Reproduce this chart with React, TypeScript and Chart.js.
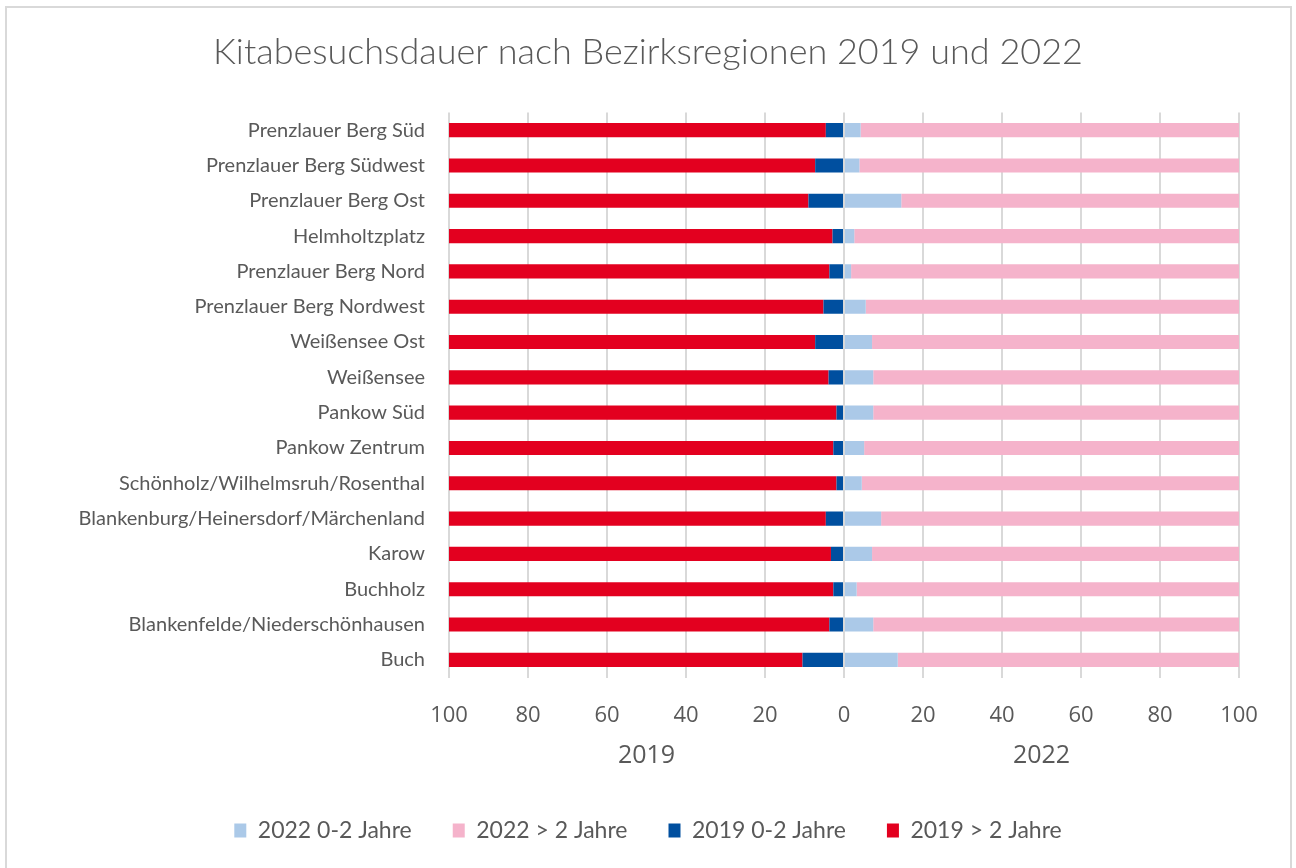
import React, { useEffect, useRef } from "react";
import { Chart, registerables } from "chart.js";

Chart.register(...registerables);

const categories = [
  "Prenzlauer Berg Süd",
  "Prenzlauer Berg Südwest",
  "Prenzlauer Berg Ost",
  "Helmholtzplatz",
  "Prenzlauer Berg Nord",
  "Prenzlauer Berg Nordwest",
  "Weißensee Ost",
  "Weißensee",
  "Pankow Süd",
  "Pankow Zentrum",
  "Schönholz/Wilhelmsruh/Rosenthal",
  "Blankenburg/Heinersdorf/Märchenland",
  "Karow",
  "Buchholz",
  "Blankenfelde/Niederschönhausen",
  "Buch",
];

const y2022Under2 = [4.2, 3.9, 14.5, 2.6, 1.8, 5.5, 7.1, 7.4, 7.4, 5.1, 4.5, 9.4, 7.1, 3.2, 7.4, 13.6];
const y2022Over2 = [95.8, 96.1, 85.5, 97.4, 98.2, 94.5, 92.9, 92.6, 92.6, 94.9, 95.5, 90.6, 92.9, 96.8, 92.6, 86.4];
const y2019Under2 = [4.6, 7.3, 9.0, 2.9, 3.7, 5.2, 7.3, 3.9, 1.9, 2.7, 1.9, 4.6, 3.3, 2.7, 3.7, 10.5];
const y2019Over2 = [95.4, 92.7, 91.0, 97.1, 96.3, 94.8, 92.7, 96.1, 98.1, 97.3, 98.1, 95.4, 96.7, 97.3, 96.3, 89.5];

const yearLabels = ["2019", "2022"];
const seriesNames = ["2022 0-2 Jahre", "2022 > 2 Jahre", "2019 0-2 Jahre", "2019 > 2 Jahre"];
const seriesColors = ["#ABC9E8", "#F5B3CB", "#004F9F", "#E3001F"];

const TEXT = "#595959";
const GRID = "#D9D9D9";

const frame = {
  id: "frame",
  beforeDraw(chart: any) {
    const ctx = chart.ctx;
    ctx.save();
    ctx.fillStyle = "#ffffff";
    ctx.fillRect(0, 0, chart.width, chart.height);
    ctx.strokeStyle = GRID;
    ctx.lineWidth = 2;
    ctx.strokeRect(6, 7, 1285, 900);
    ctx.restore();
  },
};

export default function App() {
  const ref = useRef<HTMLCanvasElement | null>(null);
  useEffect(() => {
    if (!ref.current) return;
    const neg = (a: number[]) => a.map((v) => -v);
    const chart = new Chart(ref.current, {
      type: "bar",
      data: {
        labels: categories,
        datasets: [
          { label: seriesNames[0], data: y2022Under2, backgroundColor: seriesColors[0] },
          { label: seriesNames[1], data: y2022Over2, backgroundColor: seriesColors[1] },
          { label: seriesNames[2], data: neg(y2019Under2), backgroundColor: seriesColors[2] },
          { label: seriesNames[3], data: neg(y2019Over2), backgroundColor: seriesColors[3] },
        ],
      },
      options: {
        indexAxis: "y",
        animation: false,
        responsive: false,
        maintainAspectRatio: false,
        layout: { padding: { left: 0, right: 0, top: 0, bottom: 16 } },
        datasets: { bar: { categoryPercentage: 1, barPercentage: 0.4, borderWidth: 0 } },
        plugins: {
          title: {
            display: true,
            text: "Kitabesuchsdauer nach Bezirksregionen 2019 und 2022",
            color: TEXT,
            font: { family: "Lato", size: 36, weight: "300" },
            padding: { top: 31, bottom: 38.3 },
          },
          legend: {
            position: "bottom",
            labels: {
              color: TEXT,
              font: { family: "Lato", size: 23 },
              boxWidth: 12,
              boxHeight: 14,
              padding: 41,
            },
          },
          tooltip: { enabled: false },
        },
        scales: {
          x: {
            type: "linear",
            stacked: true,
            min: -100,
            max: 100,
            weight: 0,
            grid: { color: GRID, lineWidth: 2, drawTicks: false },
            border: { display: false },
            ticks: {
              stepSize: 20,
              color: TEXT,
              padding: 25,
              maxRotation: 0,
              font: { family: "Open Sans", size: 22 },
              callback: (v: any) => String(Math.abs(Number(v))),
            },
            afterFit: (s: any) => {
              s.height = 51;
            },
          },
          x2: {
            type: "category",
            position: "bottom",
            labels: yearLabels,
            offset: true,
            weight: 1,
            grid: { display: false, drawTicks: false },
            border: { display: false },
            ticks: {
              color: TEXT,
              padding: 12.5,
              font: { family: "Open Sans", size: 25 },
              maxRotation: 0,
            },
            afterFit: (s: any) => {
              s.height = 49.5;
            },
          },
          y: {
            stacked: true,
            grid: { display: false, drawTicks: false },
            border: { display: false },
            ticks: {
              color: TEXT,
              padding: 24,
              font: { family: "Lato", size: 20 },
              autoSkip: false,
            },
            afterFit: (s: any) => {
              s.width = 449;
            },
          },
          yR: {
            type: "category",
            position: "right",
            labels: [],
            grid: { display: false, drawTicks: false },
            border: { display: false },
            ticks: { display: false },
            afterFit: (s: any) => {
              s.width = 57;
            },
          },
        },
      },
      plugins: [frame],
    } as any);
    return () => chart.destroy();
  }, []);
  return (
    <div style={{ position: "fixed", left: 0, top: 0, width: 1296, height: 868, background: "#fff" }}>
      <canvas ref={ref} width={1296} height={868} style={{ display: "block" }} />
    </div>
  );
}
